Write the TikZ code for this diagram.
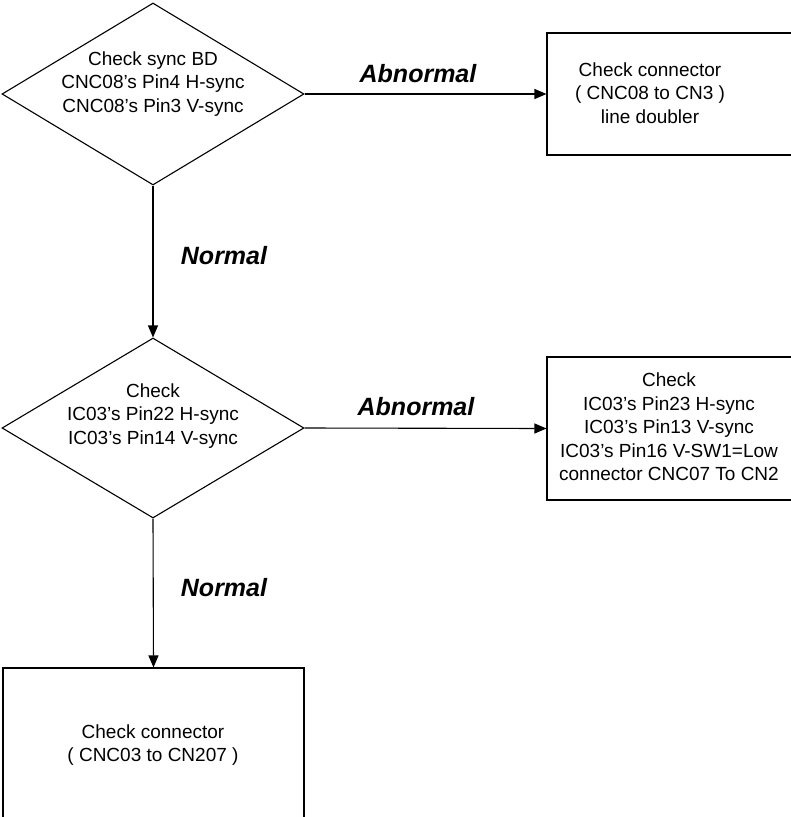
\documentclass[tikz,border=0pt]{standalone}
\usepackage{fontspec}
\setmainfont{Liberation Sans}
\usetikzlibrary{shapes.geometric,arrows.meta}
\begin{document}
\begin{tikzpicture}[x=1pt,y=-1pt,
  decision/.style={draw,line width=1.1pt,shape=diamond,inner sep=0pt,
    minimum width=302pt,minimum height=182pt},
  stepbox/.style={draw,line width=1.1pt,rectangle,inner sep=0pt},
  body/.style={align=center,font=\fontsize{19}{23.5}\selectfont,inner sep=0pt},
  verdict/.style={font=\fontsize{25}{30}\selectfont\bfseries\itshape,
    inner sep=0pt,anchor=base},
  flow/.style={line width=1.1pt,-{Triangle[length=12pt,width=10pt]}}]

  % page frame
  \useasboundingbox (0,0) rectangle (791,817);
  \fill[white] (0,0) rectangle (791,817);
  \clip (0,0) rectangle (791,817);

  % first decision: sync board
  \node[decision] (d1) at (153,94) {};
  \node[body] (d1text) at (153,84)
    {Check sync BD\\CNC08's Pin4 H-sync\\CNC08's Pin3 V-sync};

  % line doubler connector check (runs off the right edge)
  \node[stepbox,minimum width=273pt,minimum height=122pt] (b1) at (683.5,94) {};
  \node[body] (b1text) at (650,93)
    {Check connector\\( CNC08 to CN3 )\\line doubler};

  % second decision: IC03
  \node[decision,minimum height=180pt] (d2) at (153,428) {};
  \node[body] (d2text) at (153,416)
    {Check\\IC03's Pin22 H-sync\\IC03's Pin14 V-sync};

  % IC03 abnormal branch (runs off the right edge)
  \node[stepbox,minimum width=273pt,minimum height=143pt] (b2) at (683.5,428.5) {};
  \node[body] (b2text) at (669,427)
    {Check\\IC03's Pin23 H-sync\\IC03's Pin13 V-sync\\IC03's Pin16 V-SW1=Low\\connector CNC07 To CN2};

  % final connector check
  \node[stepbox,minimum width=301pt,minimum height=162pt] (b3) at (153.5,749) {};
  \node[body] (b3text) at (153,745)
    {Check connector\\( CNC03 to CN207 )};

  % connectors
  \draw[flow] (d1.east) -- (b1.west);
  \draw[flow] (d1.south) -- (d2.north);
  \draw[flow] (d2.east) -- (b2.west);
  \draw[flow] (d2.south) -- (b3.north);

  % branch labels
  \node[verdict] (ab1) at (418,82) {Abnormal};
  \node[verdict] (no1) at (224,264) {Normal};
  \node[verdict] (ab2) at (416,415) {Abnormal};
  \node[verdict] (no2) at (224,596) {Normal};
\end{tikzpicture}
\end{document}
